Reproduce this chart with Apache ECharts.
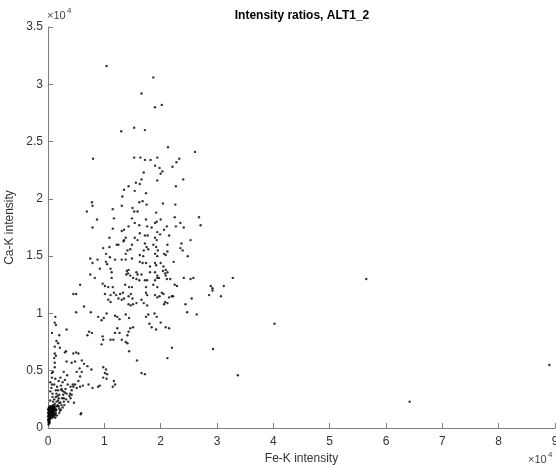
<!DOCTYPE html>
<html><head><meta charset="utf-8">
<script src="https://cdn.jsdelivr.net/npm/echarts@6/dist/echarts.min.js"></script>
<style>html,body{margin:0;padding:0;background:#fff}#c{width:556px;height:465px}</style>
</head><body><div id="c"></div>
<script>
const chartTitle = 'Intensity ratios, ALT1_2';
const xName = 'Fe-K intensity';
const yName = 'Ca-K intensity';
const xTicks = [0, 10000, 20000, 30000, 40000, 50000, 60000, 70000, 80000, 90000];
const yTicks = [0, 5000, 10000, 15000, 20000, 25000, 30000, 35000];
// [Fe-K intensity, Ca-K intensity]
const points = [
[10400,31600],[18700,30600],[16600,29200],[19000,28000],[20200,28200],[13000,25900],[15300,26200],[17200,26000],[21300,24500],
[26100,24100],[23300,23500],[22800,23200],[22100,22800],[20300,22400],[20000,22200],[24000,21700],[22700,21100],[20400,19600],
[22600,19500],[26800,18400],[22500,18400],[20000,18200],[23500,17900],[27100,17700],[21100,17600],[22700,17600],[24100,17500],
[20600,17300],[21500,16800],[25300,16400],[21200,16000],[23700,16100],[23500,15700],[23900,15500],[20600,15200],[21200,15400],
[20900,15100],[24800,15000],[20000,14400],[22300,14500],[20500,14100],[20900,13800],[20400,13700],[20800,13500],[21200,13600],
[20900,13300],[21100,13000],[21700,13000],[24100,13100],[25300,13000],[25800,13100],[32800,13100],[22500,12500],[22900,12400],
[28900,12400],[29200,12200],[31200,12400],
[20200,11800],[20500,11700],[22200,11500],[22000,11500],[21500,11400],[25500,11300],[28600,11600],[30700,11500],[29200,12000],
[20800,11000],[21200,10900],[20600,10800],[24400,10800],[24700,10100],[26400,9900],[20000,9200],[20900,8800],[40200,9100],
[22000,7000],[29300,6900],[21200,6100],[33700,4600],
[56500,13000],[64200,2300],[89000,5500],
[8000,23500],[15300,23600],[16400,23600],[17200,23400],[18200,23400],[19400,23600],[19000,22900],[19800,22700],[17000,22300],
[16600,21700],[19400,21600],[15600,21400],[16300,21300],[14300,21100],[13500,20800],[15400,20700],[17400,20500],[13200,20200],
[7800,19700],[7900,19400],[16200,19700],[16800,19800],[17500,19500],[13100,19400],[6900,18900],[11500,19100],[15000,19200],
[15300,18900],[15900,18900],[19200,18800],[11700,18300],[8700,18200],[14900,18300],[17400,18200],[19000,17900],[19300,18000],
[15400,17900],[16200,17700],[17600,17600],[18400,17500],[7900,17500],[11500,17400],[14300,17600],[13100,17200],[13500,17300],
[19400,17100],[19900,16900],[16300,17000],[17200,16800],[17700,16800],[13800,16600],[13500,16400],[13400,16300],[10900,16600],
[15400,16600],[15900,16400],[19000,16600],[19300,16400],[12500,16000],[14900,16000],[14600,15600],[17200,16100],[17500,15800],
[17000,15500],[17800,15600],[18700,16000],[19200,15800],[19500,15500],[9800,15700],[10900,15800],[12200,16000],[14100,15500],
[13800,15200],[10300,15200],[11000,14900],[16300,15100],[16900,15000],[19000,15200],[19400,15000],[7500,14800],[7900,14400],
[8800,14700],[10300,14500],[10500,14300],[11900,14700],[13100,14700],[13800,14700],[14900,14800],[16300,14500],[16800,14400],
[17400,14400],[18100,14100],[19000,14400],[19200,14200],[9200,13900],[11100,13900],[11300,13600],[14000,13700],[14200,13500],
[14600,13300],[14300,13800],[13900,13400],[15700,13600],[15900,13400],[16600,13400],[18100,13600],[19000,13600],[19400,13300],
[19700,13100],[7500,13400],[8300,13100],[11300,13100],[15100,13100],[15700,13000],[16200,12900],[17200,12900],[17600,12900],
[19000,12900],[19400,13100],[5700,12500],[9700,12600],[10100,12400],[10700,12300],[11500,12300],[13700,12500],[14400,12300],
[14900,12300],[17400,12300],[18700,12500],[19400,12300],
[4500,11700],[5000,11700],[10100,11700],[11100,11600],[11700,11800],[12100,11600],[12800,11700],[13300,11800],[10700,11200],
[11100,11000],[12500,11300],[13100,11200],[13500,11300],[14300,11500],[14700,11700],[15000,11300],[17400,11800],[17600,11600],
[19000,11600],[19400,11400],[19800,11500],[14300,10800],[14700,10700],[15100,10800],[15700,10900],[6400,10600],[16600,11200],
[17000,10900],[17600,10700],[1200,9200],[1400,9000],[5000,10100],[7600,10100],[8900,9700],[9500,9400],[9900,9600],[10400,10000],
[11900,9800],[12300,9700],[12700,9500],[13800,9900],[14400,9600],[17400,9700],[17800,9900],[18900,10000],[19300,9700],
[21500,8700],[18000,9100],[18400,8800],[19200,8600],[14600,8700],[15100,8800],[14300,8400],[14100,8100],[12300,8700],
[12700,8300],[11900,8300],[7800,8300],[7000,8100],[7300,8400],[3300,8600],[700,8300],[9700,8000],[9800,7700],[9500,7300],
[11100,7700],[11600,7700],[13100,7700],[13800,7500],[14100,7400],[14400,6700],[15800,5900],[16600,4800],[17200,4700],
[1800,7400],[2100,7000],[1200,6500],[1100,6100],[1400,6300],[3000,6600],[3200,6700],[4500,6500],[5000,6600],
[5400,6500],[3300,5800],[4200,5700],[4800,5800],[6000,5900],[6400,5600],[7000,5400],[7700,5100],
[5600,5200],[6000,4900],[5100,4900],[5700,4500],[700,4800],[900,4900],[9800,5300],[10300,5100],[10100,4800],
[10500,4700],[9800,4400],[10400,4300],[11700,4100],[11900,3800],[7900,3500],[8900,3600],[7200,3800],[4800,3800],[4500,3600],
[4200,3300],[5100,3500],[5700,3600],[2400,3400],[2700,3200],[1800,3300],[1500,3000],[2000,2900],[3300,3000],[3800,2800],
[4000,2600],[4200,2900],[800,2700],[1100,2500],[1400,2700],[1800,2400],[2200,2200],[2500,2600],[2800,2300],[1200,2100],
[1600,1900],[1000,1800],[5800,1200],[400,4000],[1100,3800],[4000,3600],[4400,3800],[5400,4100],[9200,3700],[6200,3700],
[11500,3600],[400,3200],[800,3000],[1400,3300],[2400,3300],[3900,3000],[4600,2200],[400,2400],[900,2300],[2000,2200],
[2400,2000],[900,2000],[2000,1700],[2600,1800],[2100,1500],[2000,1300],[5900,1300],
[1200,5700],[1200,5300],[2000,8100],[1500,7600],[1200,7100],[1300,9700],
[3000,4200],[2200,4400],[1600,3600],[3500,3800],[2900,2000],[3200,2500],[600,3500],[1900,2600],[2700,2900],[3600,2300],
[1500,2300],[1700,2800],[2300,3700],[3100,3400],[2600,4000],[1300,4300],[700,3800],[1900,4100],[3400,4600],[2800,4900],
[1500,1600],[1400,1300],[1600,1100],[1300,900],[1700,2000],[1900,1900],[2300,1600],[2800,2600],[3000,3100],[700,4400],
[100,500],[200,600],[100,800],[300,700],[200,900],[400,800],[300,1000],[500,900],[100,1100],[400,1100],[600,1000],[200,1200],
[500,1200],[700,1100],[300,1300],[600,1300],[800,1200],[100,1400],[400,1400],[700,1400],[900,1300],[200,1500],[500,1500],
[800,1500],[1000,1400],[300,1600],[600,1600],[900,1600],[1100,1500],[100,1700],[400,1700],[700,1700],[1000,1700],[1200,1600],
[200,1800],[500,1800],[800,1800],[1100,1800],[1300,1700],[300,1900],[600,1900],[900,1900],[1200,1900],[200,400],[100,300],
[300,500],[0,700],[0,1000],[0,1300],[0,1600],[1000,1000],[1200,1200],[800,900],[1100,1300],[1400,1500],[1300,1100],[900,1100]
];

const fontFam = '"Liberation Sans", Arial, Helvetica, sans-serif';
const chart = echarts.init(document.getElementById('c'));
const axisCommon = {
  type: 'value',
  splitLine: { show: false },
  axisLine: { show: true, lineStyle: { color: '#7f7f7f', width: 1 } },
  axisTick: { show: true, inside: true, length: 5, lineStyle: { color: '#7f7f7f' } },
  axisLabel: { color: '#333', fontSize: 12, fontFamily: fontFam, formatter: v => String(+(v / 10000).toFixed(1)) },
  nameLocation: 'middle',
  nameTextStyle: { color: '#333', fontSize: 12, fontFamily: fontFam }
};
chart.setOption({
  animation: false,
  backgroundColor: '#fff',
  grid: { left: 48, top: 27, right: 1, bottom: 37, containLabel: false, outerBoundsMode: 'none' },
  xAxis: Object.assign({}, axisCommon, {
    min: xTicks[0], max: xTicks[xTicks.length - 1], interval: xTicks[1] - xTicks[0],
    name: xName, nameGap: 25,
    axisLabel: Object.assign({}, axisCommon.axisLabel, { margin: 8 })
  }),
  yAxis: Object.assign({}, axisCommon, {
    min: yTicks[0], max: yTicks[yTicks.length - 1], interval: yTicks[1] - yTicks[0],
    name: yName, nameGap: 30,
    axisLabel: Object.assign({}, axisCommon.axisLabel, { margin: 5 })
  }),
  series: [{
    type: 'scatter',
    data: points,
    symbol: 'circle',
    symbolSize: 2.4,
    itemStyle: { color: '#000' }
  }],
  graphic: [
    { type: 'text', x: 302, y: 16, style: { text: chartTitle, font: 'bold 12px ' + fontFam, fill: '#000', textAlign: 'center', textVerticalAlign: 'middle' } },
    { type: 'text', x: 47, y: 16, style: { text: '×10', font: '11px ' + fontFam, fill: '#444', textAlign: 'left', textVerticalAlign: 'middle' } },
    { type: 'text', x: 67, y: 11, style: { text: '4', font: '8px ' + fontFam, fill: '#444', textAlign: 'left', textVerticalAlign: 'middle' } },
    { type: 'text', x: 528, y: 460, style: { text: '×10', font: '11px ' + fontFam, fill: '#444', textAlign: 'left', textVerticalAlign: 'middle' } },
    { type: 'text', x: 548, y: 455, style: { text: '4', font: '8px ' + fontFam, fill: '#444', textAlign: 'left', textVerticalAlign: 'middle' } }
  ]
});
</script>
</body></html>
